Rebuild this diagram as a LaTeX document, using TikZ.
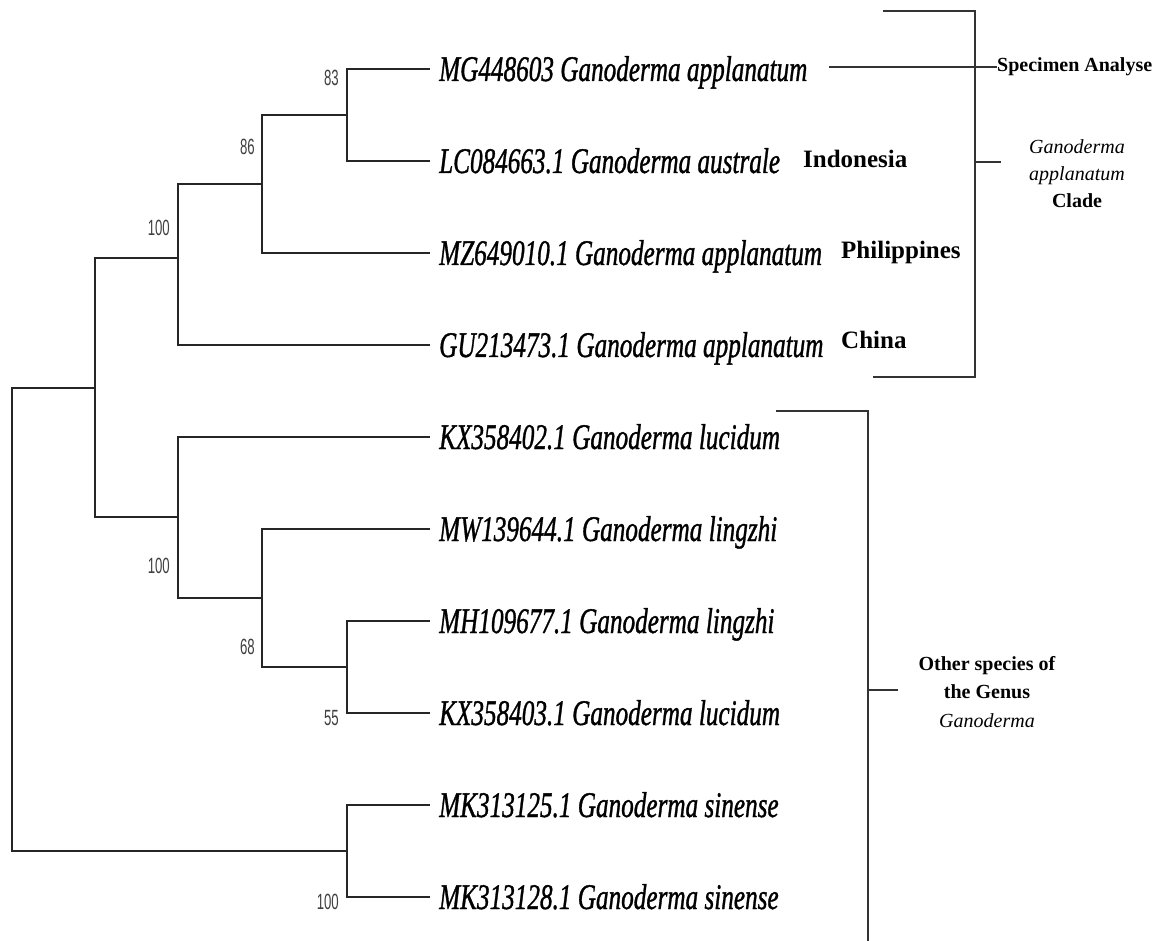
\documentclass[tikz,border=0pt]{standalone}
\usepackage{fontspec}
\usepackage{graphicx}
\setmainfont{Liberation Serif}
\newfontfamily\numfont{Liberation Sans}
\newfontfamily\leaffont[FakeBold=1.2]{Liberation Serif}
\newcommand{\leaftext}[1]{\scalebox{0.70}[1]{\leaffont\itshape #1}}
\newcommand{\bootnum}[1]{\scalebox{0.6}[1]{#1}}
\begin{document}
\begin{tikzpicture}[x=1pt,y=-1pt,
  branch/.style={draw=black!85, line width=1.8pt, line cap=rect},
  brack/.style={draw=black!80, line width=1.3pt},
  leaf/.style={anchor=base west, inner sep=0pt, font=\fontsize{36}{40}\selectfont},
  boot/.style={anchor=east, inner sep=0pt, text=black!75, font=\numfont\fontsize{22}{24}\selectfont},
  country/.style={anchor=base west, inner sep=0pt, font=\fontsize{25}{28}\selectfont\bfseries},
  note/.style={inner sep=0pt, align=center}
]
\fill[white] (0,0) rectangle (1168,941);
\useasboundingbox (0,0) rectangle (1168,941);

% leaf tips
\coordinate (t1) at (429,69);
\coordinate (t2) at (429,161);
\coordinate (t3) at (429,253);
\coordinate (t4) at (429,345);
\coordinate (t5) at (429,437);
\coordinate (t6) at (429,529);
\coordinate (t7) at (429,621);
\coordinate (t8) at (429,713);
\coordinate (t9) at (429,805);
\coordinate (t10) at (429,897);

% internal nodes
\coordinate (n83) at (347,115);
\coordinate (n86) at (262,184);
\coordinate (n100a) at (178,258);
\coordinate (nA) at (95,388);
\coordinate (n55) at (347,667);
\coordinate (n68) at (262,598);
\coordinate (n100b) at (178,517);
\coordinate (nS) at (347,851);
\coordinate (root) at (12,620);

% branches
\draw[branch] (n83) |- (t1);
\draw[branch] (n83) |- (t2);
\draw[branch] (n86) |- (n83);
\draw[branch] (n86) |- (t3);
\draw[branch] (n100a) |- (n86);
\draw[branch] (n100a) |- (t4);
\draw[branch] (nA) |- (n100a);
\draw[branch] (nA) |- (n100b);
\draw[branch] (n100b) |- (t5);
\draw[branch] (n100b) |- (n68);
\draw[branch] (n68) |- (t6);
\draw[branch] (n68) |- (n55);
\draw[branch] (n55) |- (t7);
\draw[branch] (n55) |- (t8);
\draw[branch] (nS) |- (t9);
\draw[branch] (nS) |- (t10);
\draw[branch] (root) |- (nA);
\draw[branch] (root) |- (nS);

% leaf labels
\node[leaf] (l1) at (439,81) {\leaftext{MG448603 Ganoderma applanatum}};
\node[leaf] (l2) at (439,173) {\leaftext{LC084663.1 Ganoderma australe}};
\node[leaf] (l3) at (439,265) {\leaftext{MZ649010.1 Ganoderma applanatum}};
\node[leaf] (l4) at (439,357) {\leaftext{GU213473.1 Ganoderma applanatum}};
\node[leaf] (l5) at (439,449) {\leaftext{KX358402.1 Ganoderma lucidum}};
\node[leaf] (l6) at (439,541) {\leaftext{MW139644.1 Ganoderma lingzhi}};
\node[leaf] (l7) at (439,633) {\leaftext{MH109677.1 Ganoderma lingzhi}};
\node[leaf] (l8) at (439,725) {\leaftext{KX358403.1 Ganoderma lucidum}};
\node[leaf] (l9) at (439,817) {\leaftext{MK313125.1 Ganoderma sinense}};
\node[leaf] (l10) at (439,909) {\leaftext{MK313128.1 Ganoderma sinense}};

% bootstrap values
\node[boot] (b83) at (339,78) {\bootnum{83}};
\node[boot] (b86) at (255,147) {\bootnum{86}};
\node[boot] (b100a) at (170,228) {\bootnum{100}};
\node[boot] (b100b) at (170,566) {\bootnum{100}};
\node[boot] (b68) at (255,647) {\bootnum{68}};
\node[boot] (b55) at (339,718) {\bootnum{55}};
\node[boot] (b100s) at (339,902) {\bootnum{100}};

% country labels
\node[country] (indo) at (803,168) {Indonesia};
\node[country] (phil) at (841,259) {Philippines};
\node[country] (china) at (841,349) {China};

% specimen annotation
\node[anchor=base west, inner sep=0pt, font=\fontsize{20}{24}\selectfont\bfseries] (spec) at (997,72) {Specimen Analyse};
\coordinate (sl) at (829,67);
\draw[brack] (sl) -- (spec.west |- sl);

% bracket 1
\coordinate (b1tl) at (883,11);
\coordinate (b1bl) at (873,377);
\coordinate (b1tr) at (975,11);
\coordinate (b1br) at (975,377);
\coordinate (b1m) at (975,162);
\coordinate (b1t) at (1001,162);
\draw[brack] (b1tl) -- (b1tr) -- (b1br) -- (b1bl);
\draw[brack] (b1m) -- (b1t);
\node[note, font=\fontsize{20}{27}\selectfont] (clade) at (1077,174) {\textit{Ganoderma}\\\textit{applanatum}\\\textbf{Clade}};

% bracket 2
\coordinate (b2tl) at (776,411);
\coordinate (b2tr) at (868,411);
\coordinate (b2b) at (868,941);
\coordinate (b2m) at (868,690);
\coordinate (b2t) at (898,690);
\draw[brack] (b2tl) -- (b2tr) -- (b2b);
\draw[brack] (b2m) -- (b2t);
\node[note, font=\fontsize{20}{28.5}\selectfont] (other) at (987,692) {\textbf{Other species of}\\\textbf{the Genus}\\\textit{Ganoderma}};
\end{tikzpicture}
\end{document}
